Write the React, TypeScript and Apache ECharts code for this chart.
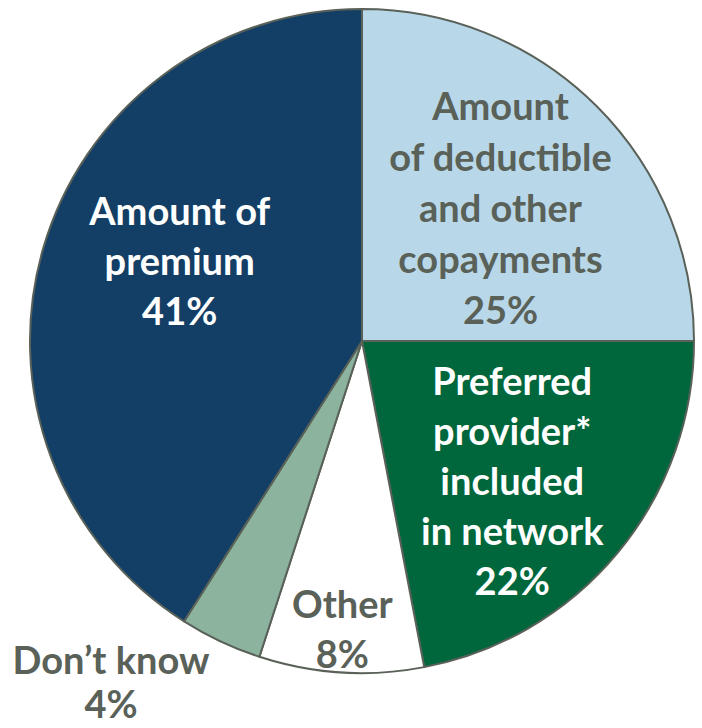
import React, { useEffect, useRef } from "react";
import * as echarts from "echarts";

const categories = [
  "Amount\nof deductible\nand other\ncopayments",
  "Preferred\nprovider*\nincluded\nin network",
  "Other",
  "Don\u2019t know",
  "Amount of\npremium",
];
const values = [25, 22, 8, 4, 41];
const colors = ["#b8d8ea", "#00673d", "#ffffff", "#8bb39d", "#133f66"];
const labelColors = ["#5a6158", "#ffffff", "#5a6158", "#5a6158", "#ffffff"];
// label offsets from default inside position (styling only)
const labelShift: [number, number][] = [
  [19, -14],
  [20, 31],
  [-9, 118],
  [-179, 187],
  [-20, -34],
];
const labelLineHeights = [51, 50, 50, 44, 50];

export default function App() {
  const ref = useRef<HTMLDivElement>(null);
  useEffect(() => {
    if (!ref.current) return;
    const chart = echarts.init(ref.current, null, { renderer: "svg" });
    chart.setOption({
      animation: false,
      backgroundColor: "#ffffff",
      series: [
        {
          type: "pie",
          center: [362, 341],
          radius: [0, 332],
          startAngle: 90,
          clockwise: true,
          avoidLabelOverlap: false,
          itemStyle: { borderColor: "#5a6158", borderWidth: 2 },
          labelLine: { show: false },
          label: {
            show: true,
            position: "inside",
            fontFamily: "Lato",
            fontWeight: "bold",
            fontSize: 38,
            align: "center",
            formatter: (p: any) => `${p.name}\n${p.value}%`,
          },
          labelLayout: (p: any) => ({
            dx: labelShift[p.dataIndex][0],
            dy: labelShift[p.dataIndex][1],
          }),
          data: categories.map((name, i) => ({
            name,
            value: values[i],
            itemStyle: { color: colors[i] },
            label: { color: labelColors[i], lineHeight: labelLineHeights[i] },
          })),
        },
      ],
    });
    return () => chart.dispose();
  }, []);
  return (
    <div
      ref={ref}
      style={{ position: "fixed", left: 0, top: 0, width: 702, height: 728 }}
    />
  );
}
